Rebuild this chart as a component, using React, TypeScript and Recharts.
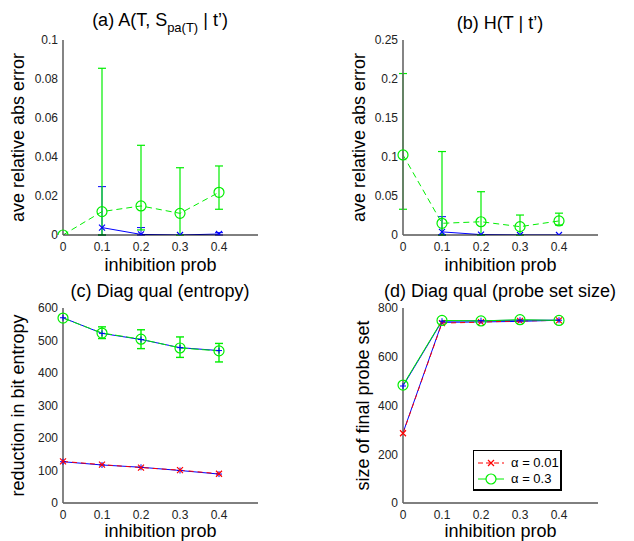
import React from 'react';
import { LineChart, Line, XAxis, YAxis, ErrorBar } from 'recharts';

const FONT = '"Liberation Sans", Arial, Helvetica, sans-serif';
const RED = '#ff0000';
const GREEN = '#00ee00';
const BLUE = '#0000ff';

const probs = [0, 0.1, 0.2, 0.3, 0.4];
const probTicks = [0, 0.1, 0.2, 0.3, 0.4];

// (a) A(T, S_pa(T) | t')
const aBlue = [null, 0.0038, 0.0003, 0, 0.0005];
const aBlueLow = [null, 0, 0, null, 0];
const aBlueHigh = [null, 0.0248, 0.0038, null, 0.0012];
const aGreen = [0, 0.012, 0.0149, 0.0111, 0.0219];
const aGreenLow = [null, 0, 0.0026, 0, 0.0132];
const aGreenHigh = [null, 0.0855, 0.046, 0.0345, 0.0354];
const aTicks = [0, 0.02, 0.04, 0.06, 0.08, 0.1];

// (b) H(T | t')
const bBlue = [null, 0.004, 0.0005, 0, 0];
const bBlueLow = [null, 0, null, null, null];
const bBlueHigh = [null, 0.0235, null, null, null];
const bGreen = [0.1026, 0.015, 0.017, 0.0107, 0.018];
const bGreenLow = [0.033, 0, 0, 0, 0.0128];
const bGreenHigh = [0.207, 0.107, 0.0555, 0.0256, 0.028];
const bTicks = [0, 0.05, 0.1, 0.15, 0.2, 0.25];

// (c) entropy reduction
const cRed = [128, 118, 109, 101, 90];
const cBlueLow = [127, 117, 110, 100, 89];
const cGreen = [569, 523, 504, 477, 468];
const cGreenLow = [null, 506, 475, 448, 434];
const cGreenHigh = [null, 542, 533, 511, 491];
const cBlueHigh = [570, 522, 503, 478, 469];
const cTicks = [0, 100, 200, 300, 400, 500, 600];

// (d) final probe set size
const dRed = [286, 738, 742, 747, 749];
const dBlueLow = [288, 741, 743, 745, 750];
const dGreen = [484, 749, 747, 752, 749];
const dBlueHigh = [480, 746, 748, 750, 750];
const dTicks = [0, 200, 400, 600, 800];

const err = (v: number | null, lo: number | null, hi: number | null) =>
  v == null || lo == null || hi == null ? null : [v - lo, hi - v];

const aData = probs.map((x, i) => ({
  x,
  blue: aBlue[i],
  green: aGreen[i],
  blueErr: err(aBlue[i], aBlueLow[i], aBlueHigh[i]),
  greenErr: err(aGreen[i], aGreenLow[i], aGreenHigh[i]),
}));

const bData = probs.map((x, i) => ({
  x,
  blue: bBlue[i],
  green: bGreen[i],
  blueErr: err(bBlue[i], bBlueLow[i], bBlueHigh[i]),
  greenErr: err(bGreen[i], bGreenLow[i], bGreenHigh[i]),
}));

const cData = probs.map((x, i) => ({
  x,
  red: cRed[i],
  blueLow: cBlueLow[i],
  green: cGreen[i],
  blueHigh: cBlueHigh[i],
  greenErr: err(cGreen[i], cGreenLow[i], cGreenHigh[i]),
}));

const dData = probs.map((x, i) => ({
  x,
  red: dRed[i],
  blueLow: dBlueLow[i],
  green: dGreen[i],
  blueHigh: dBlueHigh[i],
}));

// marker renderers
const crossDot = (color: string, s = 3) => (p: any) => {
  const { cx, cy, index } = p;
  if (cx == null || cy == null) return <g key={`c${index}`} />;
  return (
    <path
      key={`c${index}`}
      d={`M${cx - s},${cy - s}L${cx + s},${cy + s}M${cx - s},${cy + s}L${cx + s},${cy - s}`}
      stroke={color}
      strokeWidth={1.2}
      fill="none"
    />
  );
};

const plusDot = (color: string, s = 3) => (p: any) => {
  const { cx, cy, index } = p;
  if (cx == null || cy == null) return <g key={`p${index}`} />;
  return (
    <path
      key={`p${index}`}
      d={`M${cx - s},${cy}L${cx + s},${cy}M${cx},${cy - s}L${cx},${cy + s}`}
      stroke={color}
      strokeWidth={1}
      fill="none"
    />
  );
};

const circleDot = (color: string, r = 5) => (p: any) => {
  const { cx, cy, index } = p;
  if (cx == null || cy == null) return <g key={`o${index}`} />;
  return <circle key={`o${index}`} cx={cx} cy={cy} r={r} stroke={color} strokeWidth={1.2} fill="none" />;
};

interface PanelProps {
  left: number;
  top: number;
  height: number;
  yWidth: number;
  right: number;
  plotTop: number;
  yLabel: string;
  yLabelX: number;
  xLabelOffset: number;
  yDomain: [number, number];
  yTicks: number[];
  data: any[];
  children: React.ReactNode;
}

function Panel({ left, top, height, yWidth, right, plotTop, yLabel, yLabelX, xLabelOffset, yDomain, yTicks, data, children }: PanelProps) {
  const width = 317;
  const xHeight = height - plotTop - 195;
  return (
    <div style={{ position: 'absolute', left, top, width, height }}>
      <LineChart
        width={width}
        height={height}
        data={data}
        margin={{ top: plotTop, right, bottom: 0, left: 0 }}
        style={{ fontFamily: FONT }}
      >
        <XAxis
          dataKey="x"
          type="number"
          domain={[0, 0.5]}
          ticks={probTicks}
          height={xHeight}
          tickLine={false}
          tickSize={0}
          tickMargin={7}
          axisLine={{ stroke: '#000', strokeWidth: 1 }}
          tick={{ fontSize: 12, fill: '#222' }}
          label={{
            value: 'inhibition prob',
            position: 'insideBottom',
            offset: xLabelOffset,
            style: { fontSize: 18, fill: '#000', fontFamily: FONT },
          }}
        />
        <YAxis
          type="number"
          domain={yDomain}
          ticks={yTicks}
          width={yWidth}
          tickLine={false}
          tickSize={0}
          tickMargin={5}
          allowDataOverflow
          axisLine={{ stroke: '#666', strokeWidth: 1.6 }}
          tick={{ fontSize: 12, fill: '#222' }}
          label={{
            value: yLabel,
            angle: -90,
            position: 'insideLeft',
            offset: yLabelX,
            style: { fontSize: 18, fill: '#000', textAnchor: 'middle', fontFamily: FONT },
          }}
        />
        {children}
      </LineChart>
    </div>
  );
}

const titleStyle: React.CSSProperties = {
  position: 'absolute',
  width: 300,
  textAlign: 'center',
  fontFamily: FONT,
  fontSize: 18,
  lineHeight: '18px',
  whiteSpace: 'nowrap',
  color: '#000',
};

export default function App() {
  return (
    <div style={{ position: 'absolute', left: 0, top: 0, width: 634, height: 541, background: '#fff', overflow: 'hidden' }}>
      {/* (a) */}
      <Panel left={0} top={0} height={280} yWidth={63} right={59} plotTop={40} xLabelOffset={9}
        yLabel="ave relative abs error" yLabelX={18} yDomain={[0, 0.1]} yTicks={aTicks} data={aData}>
        <Line dataKey="blue" stroke={BLUE} strokeWidth={1} dot={crossDot(BLUE)} isAnimationActive={false} connectNulls={false}>
          <ErrorBar dataKey="blueErr" direction="y" width={4} stroke={BLUE} strokeWidth={1} />
        </Line>
        <Line dataKey="green" stroke={GREEN} strokeWidth={1} strokeDasharray="6 4" dot={circleDot(GREEN)} isAnimationActive={false}>
          <ErrorBar dataKey="greenErr" direction="y" width={4} stroke={GREEN} strokeWidth={1.2} />
        </Line>
      </Panel>

      {/* (b) */}
      <Panel left={317} top={0} height={280} yWidth={86} right={36} plotTop={40} xLabelOffset={9}
        yLabel="ave relative abs error" yLabelX={42} yDomain={[0, 0.25]} yTicks={bTicks} data={bData}>
        <Line dataKey="blue" stroke={BLUE} strokeWidth={1} dot={crossDot(BLUE)} isAnimationActive={false} connectNulls={false}>
          <ErrorBar dataKey="blueErr" direction="y" width={4} stroke={BLUE} strokeWidth={1} />
        </Line>
        <Line dataKey="green" stroke={GREEN} strokeWidth={1} strokeDasharray="6 4" dot={circleDot(GREEN)} isAnimationActive={false}>
          <ErrorBar dataKey="greenErr" direction="y" width={4} stroke={GREEN} strokeWidth={1.2} />
        </Line>
      </Panel>

      {/* (c) */}
      <Panel left={0} top={270} height={271} yWidth={63} right={59} plotTop={38} xLabelOffset={4}
        yLabel="reduction in bit entropy" yLabelX={18} yDomain={[0, 600]} yTicks={cTicks} data={cData}>
        <Line dataKey="blueLow" stroke={BLUE} strokeWidth={1} dot={plusDot(BLUE)} isAnimationActive={false} />
        <Line dataKey="red" stroke={RED} strokeWidth={1} strokeDasharray="5 4" dot={crossDot(RED)} isAnimationActive={false} />
        <Line dataKey="blueHigh" stroke={BLUE} strokeWidth={1} dot={plusDot(BLUE)} isAnimationActive={false} />
        <Line dataKey="green" stroke={GREEN} strokeWidth={1} strokeDasharray="8 3" dot={circleDot(GREEN)} isAnimationActive={false}>
          <ErrorBar dataKey="greenErr" direction="y" width={4} stroke={GREEN} strokeWidth={1.4} />
        </Line>
      </Panel>

      {/* (d) */}
      <Panel left={317} top={270} height={271} yWidth={86} right={36} plotTop={38} xLabelOffset={4}
        yLabel="size of final probe set" yLabelX={46} yDomain={[0, 800]} yTicks={dTicks} data={dData}>
        <Line dataKey="blueLow" stroke={BLUE} strokeWidth={1} dot={false} isAnimationActive={false} />
        <Line dataKey="red" stroke={RED} strokeWidth={1} strokeDasharray="5 4" dot={crossDot(RED)} isAnimationActive={false} />
        <Line dataKey="blueHigh" stroke={BLUE} strokeWidth={1} dot={plusDot(BLUE)} isAnimationActive={false} />
        <Line dataKey="green" stroke={GREEN} strokeWidth={1} dot={circleDot(GREEN)} isAnimationActive={false} />
      </Panel>

      {/* titles */}
      <div style={{ ...titleStyle, left: 160 - 150, top: 11 }}>
        (a) A(T, S<span style={{ fontSize: 13, position: 'relative', top: 6 }}>pa(T)</span> | t’)
      </div>
      <div style={{ ...titleStyle, left: 500 - 150, top: 14 }}>(b) H(T | t’)</div>
      <div style={{ ...titleStyle, left: 160 - 150, top: 282 }}>(c) Diag qual (entropy)</div>
      <div style={{ ...titleStyle, left: 500 - 150, top: 282 }}>(d) Diag qual (probe set size)</div>

      {/* legend for (d) */}
      <div
        style={{
          position: 'absolute',
          left: 473,
          top: 450,
          width: 86,
          height: 38,
          border: '1px solid #000',
          borderRightWidth: 2,
          borderBottomWidth: 2,
          background: '#fff',
          fontFamily: FONT,
          fontSize: 13,
        }}
      >
        <div style={{ position: 'absolute', left: 2, top: 4, display: 'flex', alignItems: 'center', height: 15 }}>
          <svg width={30} height={14}>
            <line x1={2} y1={7} x2={28} y2={7} stroke={RED} strokeWidth={1} strokeDasharray="5 3" />
            <path d="M12,4L18,10M12,10L18,4" stroke={RED} strokeWidth={1.2} />
          </svg>
          <span style={{ marginLeft: 5 }}>α = 0.01</span>
        </div>
        <div style={{ position: 'absolute', left: 2, top: 20, display: 'flex', alignItems: 'center', height: 15 }}>
          <svg width={30} height={14}>
            <line x1={2} y1={7} x2={28} y2={7} stroke={GREEN} strokeWidth={1} />
            <circle cx={15} cy={7} r={5} stroke={GREEN} strokeWidth={1.2} fill="#fff" />
          </svg>
          <span style={{ marginLeft: 5 }}>α = 0.3</span>
        </div>
      </div>
    </div>
  );
}
